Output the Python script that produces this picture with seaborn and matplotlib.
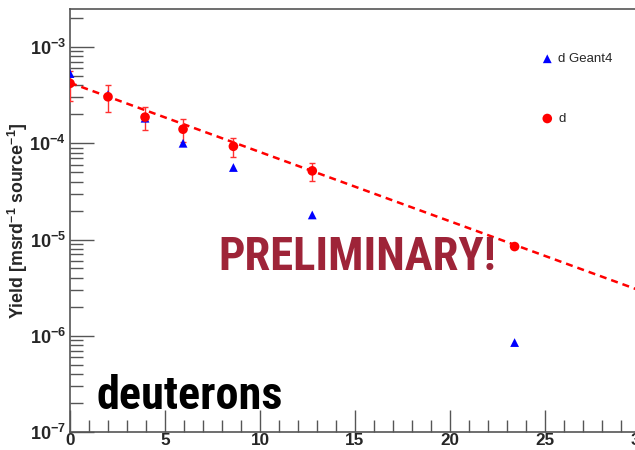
import numpy as np
import pandas as pd
import matplotlib
matplotlib.use("Agg")
import matplotlib.pyplot as plt
import matplotlib.ticker as mticker
from matplotlib import font_manager
import seaborn as sns

# Measured deuteron yields and the Geant4 prediction
energy_meas = [0.0, 2.0, 3.95, 5.95, 8.6, 12.75, 23.4]
yield_meas = [4.19e-4, 3.04e-4, 1.87e-4, 1.40e-4, 9.3e-5, 5.17e-5, 8.45e-6]
yield_err = [1.43e-4, 0.95e-4, 0.51e-4, 0.37e-4, 0.21e-4, 1.08e-5, 0.0]

energy_g4 = [0.0, 2.0, 3.95, 5.95, 8.6, 12.75, 23.4]
yield_g4 = [5.3e-4, 3.2e-4, 1.82e-4, 1.0e-4, 5.6e-5, 1.8e-5, 8.5e-7]

# Exponential fit, given by its end points
fit_x = [0.0, 30.0]
fit_y = [4.25e-4, 2.95e-6]

x_ticks = [0, 5, 10, 15, 20, 25, 30]

sns.set_style("ticks")
plt.rcParams["font.family"] = ["Liberation Sans", "DejaVu Sans"]
plt.rcParams["mathtext.fontset"] = "custom"
plt.rcParams["mathtext.rm"] = "Liberation Sans:bold"
plt.rcParams["mathtext.bf"] = "Liberation Sans:bold"
plt.rcParams["mathtext.default"] = "bf"

fig = plt.figure(figsize=(6.35, 4.5), dpi=100)
ax = fig.add_axes([70 / 635, 18 / 450, 570 / 635, 422.7 / 450])

df_meas = pd.DataFrame({"E": energy_meas, "Y": yield_meas})
df_g4 = pd.DataFrame({"E": energy_g4, "Y": yield_g4})
df_fit = pd.DataFrame({"E": fit_x, "Y": fit_y})

sns.lineplot(data=df_fit, x="E", y="Y", ax=ax, color="#ff0000", lw=1.8,
             dashes=False, zorder=2)
ax.lines[-1].set_dashes((2.8, 2.0))

ax.errorbar(energy_meas, yield_meas, yerr=yield_err, fmt="none",
            ecolor="#ff3030", elinewidth=1.0, capsize=2, capthick=1.0, zorder=3)

sns.scatterplot(data=df_g4, x="E", y="Y", ax=ax, marker="^", s=40,
                color="#0000ff", edgecolor="none", label="d Geant4", zorder=4)
sns.scatterplot(data=df_meas, x="E", y="Y", ax=ax, marker="o", s=48,
                color="#ff0000", edgecolor="none", label="d", zorder=5)

ax.set_yscale("log")
ax.set_xlim(0, 30)
ax.set_ylim(1e-7, 10 ** -2.608)
ax.set_xticks(x_ticks)
ax.xaxis.set_minor_locator(mticker.MultipleLocator(1))
ax.yaxis.set_major_locator(mticker.LogLocator(base=10, numticks=10))
ax.yaxis.set_minor_locator(mticker.LogLocator(base=10, subs=np.arange(2, 10), numticks=20))
ax.yaxis.set_minor_formatter(mticker.NullFormatter())

ax.tick_params(axis="both", which="major", direction="in", length=17, width=1.0,
               color="#555555", labelsize=13, pad=3)
ax.tick_params(axis="both", which="minor", direction="in", length=9, width=1.0,
               color="#555555")
ax.tick_params(axis="x", which="major", length=16, pad=1, labelsize=12.3)
for lbl in ax.get_xticklabels() + ax.get_yticklabels():
    lbl.set_fontweight("bold")

for side in ["left", "bottom", "top", "right"]:
    ax.spines[side].set_color("#555555")
    ax.spines[side].set_linewidth(1.2)

ax.set_xlabel("")
ax.set_ylabel(r"Yield [msrd$^{-1}$ source$^{-1}$]", fontsize=12.8, fontweight="bold")
ax.yaxis.label.set_va("center")
ax.yaxis.set_label_coords(-52 / 570, 0.5)

ax.legend(loc="upper left", bbox_to_anchor=(542 / 635, 397 / 450),
          bbox_transform=fig.transFigure, frameon=False, fontsize=9.5,
          handlelength=0.8, handletextpad=0.45, labelspacing=3.6,
          borderpad=0, borderaxespad=0)

# Big captions: prefer a condensed face, then fit each caption to its width
installed = {f.name for f in font_manager.fontManager.ttflist}
caption_family = "Liberation Sans"
for name in ["Liberation Sans Narrow", "Roboto Condensed", "DejaVu Sans Condensed"]:
    if name in installed:
        caption_family = name
        break

renderer = fig.canvas.get_renderer()


def caption(x_px, base_px, text, width_px, color):
    t = ax.text((x_px - 70) / 570, (432 - base_px) / 422.7, text,
                transform=ax.transAxes, fontsize=35, fontweight="bold",
                color=color, family=[caption_family, "DejaVu Sans"],
                ha="left", va="baseline")
    w = t.get_window_extent(renderer).width
    t.set_fontsize(35 * width_px / w)
    return t


caption(218, 270, "PRELIMINARY!", 278, "#9e2438")
caption(97, 409, "deuterons", 186, "black")

fig.savefig("out.png", dpi=100)
